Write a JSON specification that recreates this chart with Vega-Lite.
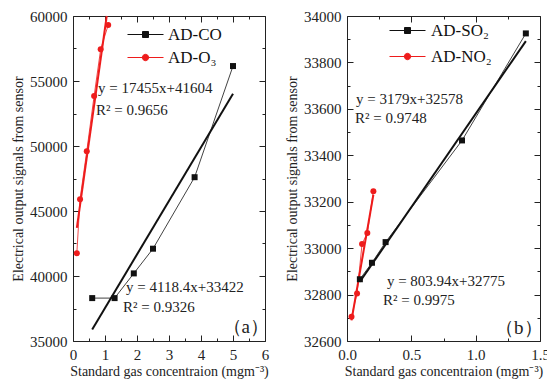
{
  "$schema": "https://vega.github.io/schema/vega-lite/v6.json",
  "padding": {"left": 11, "top": 8, "right": 0, "bottom": 0},
  "background": "white",
  "spacing": 15,
  "resolve": {"scale": {"color": "independent"}, "legend": {"color": "independent"}},
  "config": {
    "view": {"stroke": "#222", "strokeWidth": 1},
    "axis": {"grid": false, "labelFont": "Liberation Serif", "labelFontSize": 15, "labelColor": "#222", "titleFont": "Liberation Serif", "titleFontSize": 14, "titleFontWeight": "normal", "titleColor": "#222", "tickColor": "#222", "domain": false, "labelFlush": false, "labelOverlap": false},
    "text": {"font": "Liberation Serif"}
  },
  "datasets": {
    "ptsA": [
      {"s": "AD-CO", "x": 0.6, "y": 38300}, {"s": "AD-CO", "x": 1.3, "y": 38300}, {"s": "AD-CO", "x": 1.9, "y": 40200},
      {"s": "AD-CO", "x": 2.5, "y": 42100}, {"s": "AD-CO", "x": 3.8, "y": 47600}, {"s": "AD-CO", "x": 5.0, "y": 56150},
      {"s": "AD-O₃", "x": 0.12, "y": 41750}, {"s": "AD-O₃", "x": 0.22, "y": 45900}, {"s": "AD-O₃", "x": 0.43, "y": 49600},
      {"s": "AD-O₃", "x": 0.66, "y": 53850}, {"s": "AD-O₃", "x": 0.865, "y": 57450}, {"s": "AD-O₃", "x": 1.1, "y": 59300}
    ],
    "fitA": [
      {"s": "AD-CO", "x": 0.6, "y": 35893}, {"s": "AD-CO", "x": 5.0, "y": 54014},
      {"s": "AD-O₃", "x": 0.12, "y": 43699}, {"s": "AD-O₃", "x": 1.054, "y": 60000}
    ],
    "textA": [
      {"x": 0.78, "y": 54450, "t": "y = 17455x+41604"},
      {"x": 0.72, "y": 52770, "t": "R² = 0.9656"},
      {"x": 1.66, "y": 39150, "t": "y = 4118.4x+33422"},
      {"x": 1.56, "y": 37640, "t": "R² = 0.9326"}
    ],
    "labA": [{"x": 5.4, "y": 36100, "t": "（a）"}],
    "ptsB": [
      {"s": "AD-SO₂", "x": 0.1, "y": 32866}, {"s": "AD-SO₂", "x": 0.194, "y": 32937}, {"s": "AD-SO₂", "x": 0.3, "y": 33026},
      {"s": "AD-SO₂", "x": 0.894, "y": 33464}, {"s": "AD-SO₂", "x": 1.39, "y": 33925},
      {"s": "AD-NO₂", "x": 0.035, "y": 32705}, {"s": "AD-NO₂", "x": 0.078, "y": 32805}, {"s": "AD-NO₂", "x": 0.117, "y": 33018},
      {"s": "AD-NO₂", "x": 0.158, "y": 33065}, {"s": "AD-NO₂", "x": 0.205, "y": 33245}
    ],
    "fitB": [
      {"s": "AD-SO₂", "x": 0.1, "y": 32855}, {"s": "AD-SO₂", "x": 1.39, "y": 33892},
      {"s": "AD-NO₂", "x": 0.035, "y": 32689}, {"s": "AD-NO₂", "x": 0.205, "y": 33230}
    ],
    "textB": [
      {"x": 0.07, "y": 33642, "t": "y = 3179x+32578"},
      {"x": 0.062, "y": 33561, "t": "R² = 0.9748"},
      {"x": 0.31, "y": 32858, "t": "y = 803.94x+32775"},
      {"x": 0.28, "y": 32776, "t": "R² = 0.9975"}
    ],
    "labB": [{"x": 1.335, "y": 32656, "t": "（b）"}]
  },
  "hconcat": [
    {
      "width": 192, "height": 325,
      "resolve": {"axis": {"x": "independent", "y": "independent"}},
      "layer": [
        {
          "data": {"name": "fitA"},
          "mark": {"type": "line", "strokeWidth": 2},
          "encoding": {
            "x": {"field": "x", "type": "quantitative", "scale": {"domain": [0, 6], "nice": false, "zero": false},
              "axis": {"orient": "bottom", "values": [0, 1, 2, 3, 4, 5, 6], "tickSize": -6, "labelPadding": 12, "format": "d", "title": "Standard gas concentraion (mgm⁻³)", "titlePadding": 2}},
            "y": {"field": "y", "type": "quantitative", "scale": {"domain": [35000, 60000], "nice": false, "zero": false},
              "axis": {"orient": "left", "values": [35000, 40000, 45000, 50000, 55000, 60000], "tickSize": -6, "labelPadding": 12, "format": "d", "title": "Electrical output signals from sensor", "titlePadding": 4}},
            "detail": {"field": "s"},
            "stroke": {"condition": {"test": "datum.s === 'AD-CO'", "value": "#111111"}, "value": "#ee1c1c"}
          }
        },
        {
          "data": {"name": "ptsA"},
          "mark": {"type": "line", "strokeWidth": 0.8},
          "encoding": {
            "x": {"field": "x", "type": "quantitative", "scale": {"domain": [0, 6], "nice": false, "zero": false},
              "axis": {"orient": "bottom", "values": [0.5, 1.5, 2.5, 3.5, 4.5, 5.5], "tickSize": -3, "labels": false, "title": null}},
            "y": {"field": "y", "type": "quantitative", "scale": {"domain": [35000, 60000], "nice": false, "zero": false},
              "axis": {"orient": "left", "values": [37500, 42500, 47500, 52500, 57500], "tickSize": -3, "labels": false, "title": null}},
            "color": {"field": "s", "type": "nominal", "scale": {"domain": ["AD-CO", "AD-O₃"], "range": ["#111111", "#ee1c1c"]},
              "legend": {
                "title": null, "orient": "none", "legendX": 64, "legendY": 10, "padding": 0,
                "symbolSize": 64, "labelFont": "Liberation Serif", "labelFontSize": 17, "labelColor": "#111", "labelOffset": 14, "rowPadding": 5,
                "encode": {"symbols": {"update": {
                  "shape": {"signal": "datum.value === 'AD-CO' ? 'M-4.5,0H4.5M-0.75,-0.75H0.75V0.75H-0.75Z' : 'M-4.5,0H4.5M0.8,0A0.8,0.8,0,1,1,-0.8,0A0.8,0.8,0,1,1,0.8,0Z'"},
                  "fill": {"signal": "datum.value === 'AD-CO' ? '#111111' : '#ee1c1c'"},
                  "stroke": {"signal": "datum.value === 'AD-CO' ? '#111111' : '#ee1c1c'"},
                  "strokeWidth": {"value": 1},
                  "opacity": {"value": 1}
                }}}
              }}
          }
        },
        {
          "data": {"name": "ptsA"},
          "mark": {"type": "point", "filled": true, "opacity": 1, "size": 36},
          "encoding": {
            "x": {"field": "x", "type": "quantitative", "scale": {"domain": [0, 6], "nice": false, "zero": false},
              "axis": {"orient": "top", "values": [0, 1, 2, 3, 4, 5, 6], "tickSize": -6, "labels": false, "title": null}},
            "y": {"field": "y", "type": "quantitative", "scale": {"domain": [35000, 60000], "nice": false, "zero": false},
              "axis": {"orient": "right", "values": [35000, 40000, 45000, 50000, 55000, 60000], "tickSize": -6, "labels": false, "title": null}},
            "fill": {"condition": {"test": "datum.s === 'AD-CO'", "value": "#111111"}, "value": "#ee1c1c"},
            "shape": {"condition": {"test": "datum.s === 'AD-CO'", "value": "square"}, "value": "circle"}
          }
        },
        {
          "data": {"name": "textA"},
          "mark": {"type": "text", "align": "left", "baseline": "middle", "fontSize": 15, "color": "#222"},
          "encoding": {
            "x": {"field": "x", "type": "quantitative", "scale": {"domain": [0, 6], "nice": false, "zero": false},
              "axis": {"orient": "top", "values": [0.5, 1.5, 2.5, 3.5, 4.5, 5.5], "tickSize": -3, "labels": false, "title": null}},
            "y": {"field": "y", "type": "quantitative", "scale": {"domain": [35000, 60000], "nice": false, "zero": false},
              "axis": {"orient": "right", "values": [37500, 42500, 47500, 52500, 57500], "tickSize": -3, "labels": false, "title": null}},
            "text": {"field": "t"}
          }
        },
        {
          "data": {"name": "labA"},
          "mark": {"type": "text", "align": "center", "baseline": "middle", "fontSize": 19, "color": "#222"},
          "encoding": {
            "x": {"field": "x", "type": "quantitative", "scale": {"domain": [0, 6], "nice": false, "zero": false}, "axis": null},
            "y": {"field": "y", "type": "quantitative", "scale": {"domain": [35000, 60000], "nice": false, "zero": false}, "axis": null},
            "text": {"field": "t"}
          }
        }
      ]
    },
    {
      "width": 193, "height": 325,
      "resolve": {"axis": {"x": "independent", "y": "independent"}},
      "layer": [
        {
          "data": {"name": "fitB"},
          "mark": {"type": "line", "strokeWidth": 2},
          "encoding": {
            "x": {"field": "x", "type": "quantitative", "scale": {"domain": [0, 1.5], "nice": false, "zero": false},
              "axis": {"orient": "bottom", "values": [0, 0.5, 1, 1.5], "tickSize": -6, "labelPadding": 12, "format": ".1f", "title": "Standard gas concentraion (mgm⁻³)", "titlePadding": 2}},
            "y": {"field": "y", "type": "quantitative", "scale": {"domain": [32600, 34000], "nice": false, "zero": false},
              "axis": {"orient": "left", "values": [32600, 32800, 33000, 33200, 33400, 33600, 33800, 34000], "tickSize": -6, "labelPadding": 12, "format": "d", "title": "Electrical output signals from sensor", "titlePadding": 4}},
            "detail": {"field": "s"},
            "stroke": {"condition": {"test": "datum.s === 'AD-SO₂'", "value": "#111111"}, "value": "#ee1c1c"}
          }
        },
        {
          "data": {"name": "ptsB"},
          "mark": {"type": "line", "strokeWidth": 0.8},
          "encoding": {
            "x": {"field": "x", "type": "quantitative", "scale": {"domain": [0, 1.5], "nice": false, "zero": false},
              "axis": {"orient": "bottom", "values": [0.25, 0.75, 1.25], "tickSize": -3, "labels": false, "title": null}},
            "y": {"field": "y", "type": "quantitative", "scale": {"domain": [32600, 34000], "nice": false, "zero": false},
              "axis": {"orient": "left", "values": [32700, 32900, 33100, 33300, 33500, 33700, 33900], "tickSize": -3, "labels": false, "title": null}},
            "color": {"field": "s", "type": "nominal", "scale": {"domain": ["AD-SO₂", "AD-NO₂"], "range": ["#111111", "#ee1c1c"]},
              "legend": {
                "title": null, "orient": "none", "legendX": 52, "legendY": 6, "padding": 0,
                "symbolSize": 64, "labelFont": "Liberation Serif", "labelFontSize": 17, "labelColor": "#111", "labelOffset": 15, "rowPadding": 8,
                "encode": {"symbols": {"update": {
                  "shape": {"signal": "datum.value === 'AD-SO₂' ? 'M-4.5,0H4.5M-0.75,-0.75H0.75V0.75H-0.75Z' : 'M-4.5,0H4.5M0.8,0A0.8,0.8,0,1,1,-0.8,0A0.8,0.8,0,1,1,0.8,0Z'"},
                  "fill": {"signal": "datum.value === 'AD-SO₂' ? '#111111' : '#ee1c1c'"},
                  "stroke": {"signal": "datum.value === 'AD-SO₂' ? '#111111' : '#ee1c1c'"},
                  "strokeWidth": {"value": 1},
                  "opacity": {"value": 1}
                }}}
              }}
          }
        },
        {
          "data": {"name": "ptsB"},
          "mark": {"type": "point", "filled": true, "opacity": 1, "size": 36},
          "encoding": {
            "x": {"field": "x", "type": "quantitative", "scale": {"domain": [0, 1.5], "nice": false, "zero": false},
              "axis": {"orient": "top", "values": [0, 0.5, 1, 1.5], "tickSize": -6, "labels": false, "title": null}},
            "y": {"field": "y", "type": "quantitative", "scale": {"domain": [32600, 34000], "nice": false, "zero": false},
              "axis": {"orient": "right", "values": [32600, 32800, 33000, 33200, 33400, 33600, 33800, 34000], "tickSize": -6, "labels": false, "title": null}},
            "fill": {"condition": {"test": "datum.s === 'AD-SO₂'", "value": "#111111"}, "value": "#ee1c1c"},
            "shape": {"condition": {"test": "datum.s === 'AD-SO₂'", "value": "square"}, "value": "circle"}
          }
        },
        {
          "data": {"name": "textB"},
          "mark": {"type": "text", "align": "left", "baseline": "middle", "fontSize": 15, "color": "#222"},
          "encoding": {
            "x": {"field": "x", "type": "quantitative", "scale": {"domain": [0, 1.5], "nice": false, "zero": false},
              "axis": {"orient": "top", "values": [0.25, 0.75, 1.25], "tickSize": -3, "labels": false, "title": null}},
            "y": {"field": "y", "type": "quantitative", "scale": {"domain": [32600, 34000], "nice": false, "zero": false},
              "axis": {"orient": "right", "values": [32700, 32900, 33100, 33300, 33500, 33700, 33900], "tickSize": -3, "labels": false, "title": null}},
            "text": {"field": "t"}
          }
        },
        {
          "data": {"name": "labB"},
          "mark": {"type": "text", "align": "center", "baseline": "middle", "fontSize": 19, "color": "#222"},
          "encoding": {
            "x": {"field": "x", "type": "quantitative", "scale": {"domain": [0, 1.5], "nice": false, "zero": false}, "axis": null},
            "y": {"field": "y", "type": "quantitative", "scale": {"domain": [32600, 34000], "nice": false, "zero": false}, "axis": null},
            "text": {"field": "t"}
          }
        }
      ]
    }
  ]
}
